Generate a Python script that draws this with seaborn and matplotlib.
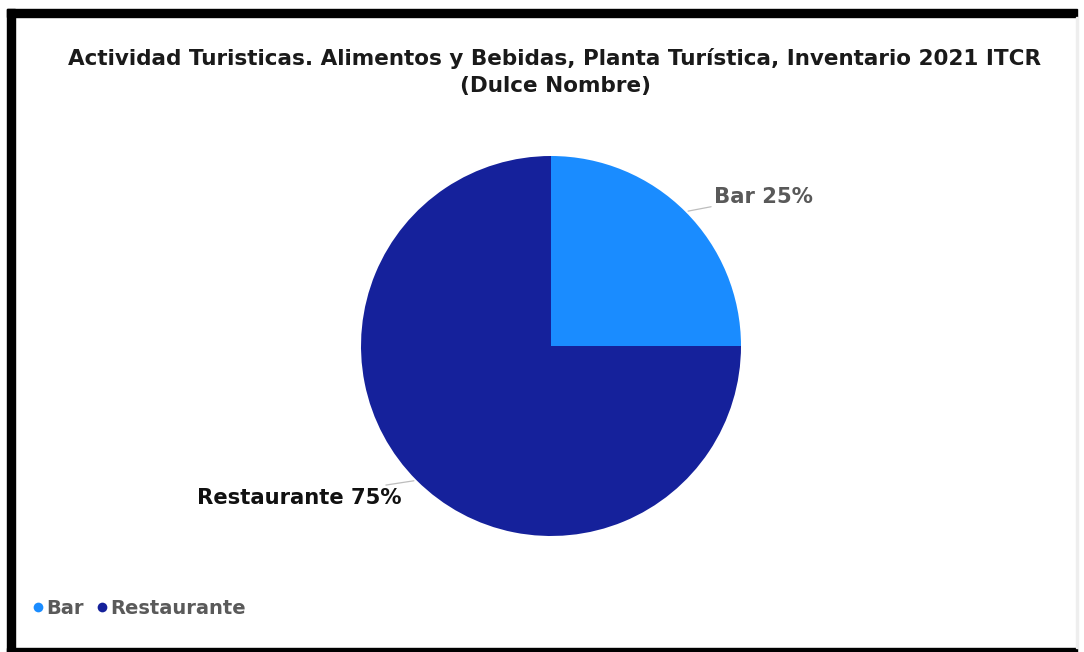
import numpy as np
import matplotlib
matplotlib.use("Agg")
import matplotlib.pyplot as plt
import seaborn as sns
from matplotlib.lines import Line2D
from matplotlib.patches import Rectangle

# data
categories = ["Bar", "Restaurante"]
values = [25, 75]
colors = ["#1a8cff", "#15219b"]
label_colors = ["#595959", "#111111"]

title = "Actividad Turisticas. Alimentos y Bebidas, Planta Turística, Inventario 2021 ITCR\n(Dulce Nombre)"

sns.set_theme(style="white")
plt.rcParams["font.family"] = ["DejaVu Sans"]

W, H = 1084, 652
fig = plt.figure(figsize=(W / 100, H / 100), dpi=100)
fig.patch.set_facecolor("white")

# pie axes: centre (551, 346) px from top-left, radius 190 px
r = 190
ax = fig.add_axes([(551 - r) / W, (H - 346 - r) / H, 2 * r / W, 2 * r / H])
wedges, _ = ax.pie(values, colors=colors, startangle=90, counterclock=False,
                   radius=1, wedgeprops=dict(linewidth=0))
ax.set_xlim(-1, 1)
ax.set_ylim(-1, 1)
ax.set_aspect("equal")
ax.axis("off")

# slice labels with short leader lines
offsets = [((29, 15), "left"), ((-15, -18), "right")]
for w, cat, v, lc, (off, ha) in zip(wedges, categories, values, label_colors, offsets):
    ang = np.deg2rad((w.theta1 + w.theta2) / 2)
    x, y = np.cos(ang), np.sin(ang)
    ax.annotate(f"{cat} {v}%", xy=(x, y), xytext=off, textcoords="offset pixels",
                ha=ha, va="center", fontsize=15.2, fontweight="bold", color=lc,
                arrowprops=dict(arrowstyle="-", color="#bdbdbd", lw=0.9,
                                shrinkA=0, shrinkB=2),
                annotation_clip=False)

fig.text(555 / W, 1 - 72 / H, title, ha="center", va="center", fontsize=15.5,
         fontweight="bold", color="#1a1a1a", linespacing=1.45)

handles = [Line2D([0], [0], marker="o", linestyle="", markersize=7,
                  markerfacecolor=c, markeredgewidth=0) for c in colors]
fig.legend(handles, categories, loc="center left",
           bbox_to_anchor=(16 / W, 1 - 608 / H), ncol=2, frameon=False,
           handlelength=0.45, handletextpad=0.2, columnspacing=0.7,
           labelcolor="#5a5a5a", prop=dict(weight="bold", size=14))

# black frame on left, top and bottom; faint edge on the right
tr = fig.transFigure
fig.add_artist(Rectangle((7 / W, 0), 8 / W, 1 - 9 / H, transform=tr, color="black"))
fig.add_artist(Rectangle((7 / W, 1 - 17 / H), 1070 / W, 8 / H, transform=tr, color="black"))
fig.add_artist(Rectangle((7 / W, 0), 1070 / W, 4 / H, transform=tr, color="black"))
fig.add_artist(Rectangle((1076 / W, 4 / H), 2 / W, 1 - 21 / H, transform=tr, color="#eeeeee"))

fig.savefig("out.png", dpi=100, facecolor="white")
